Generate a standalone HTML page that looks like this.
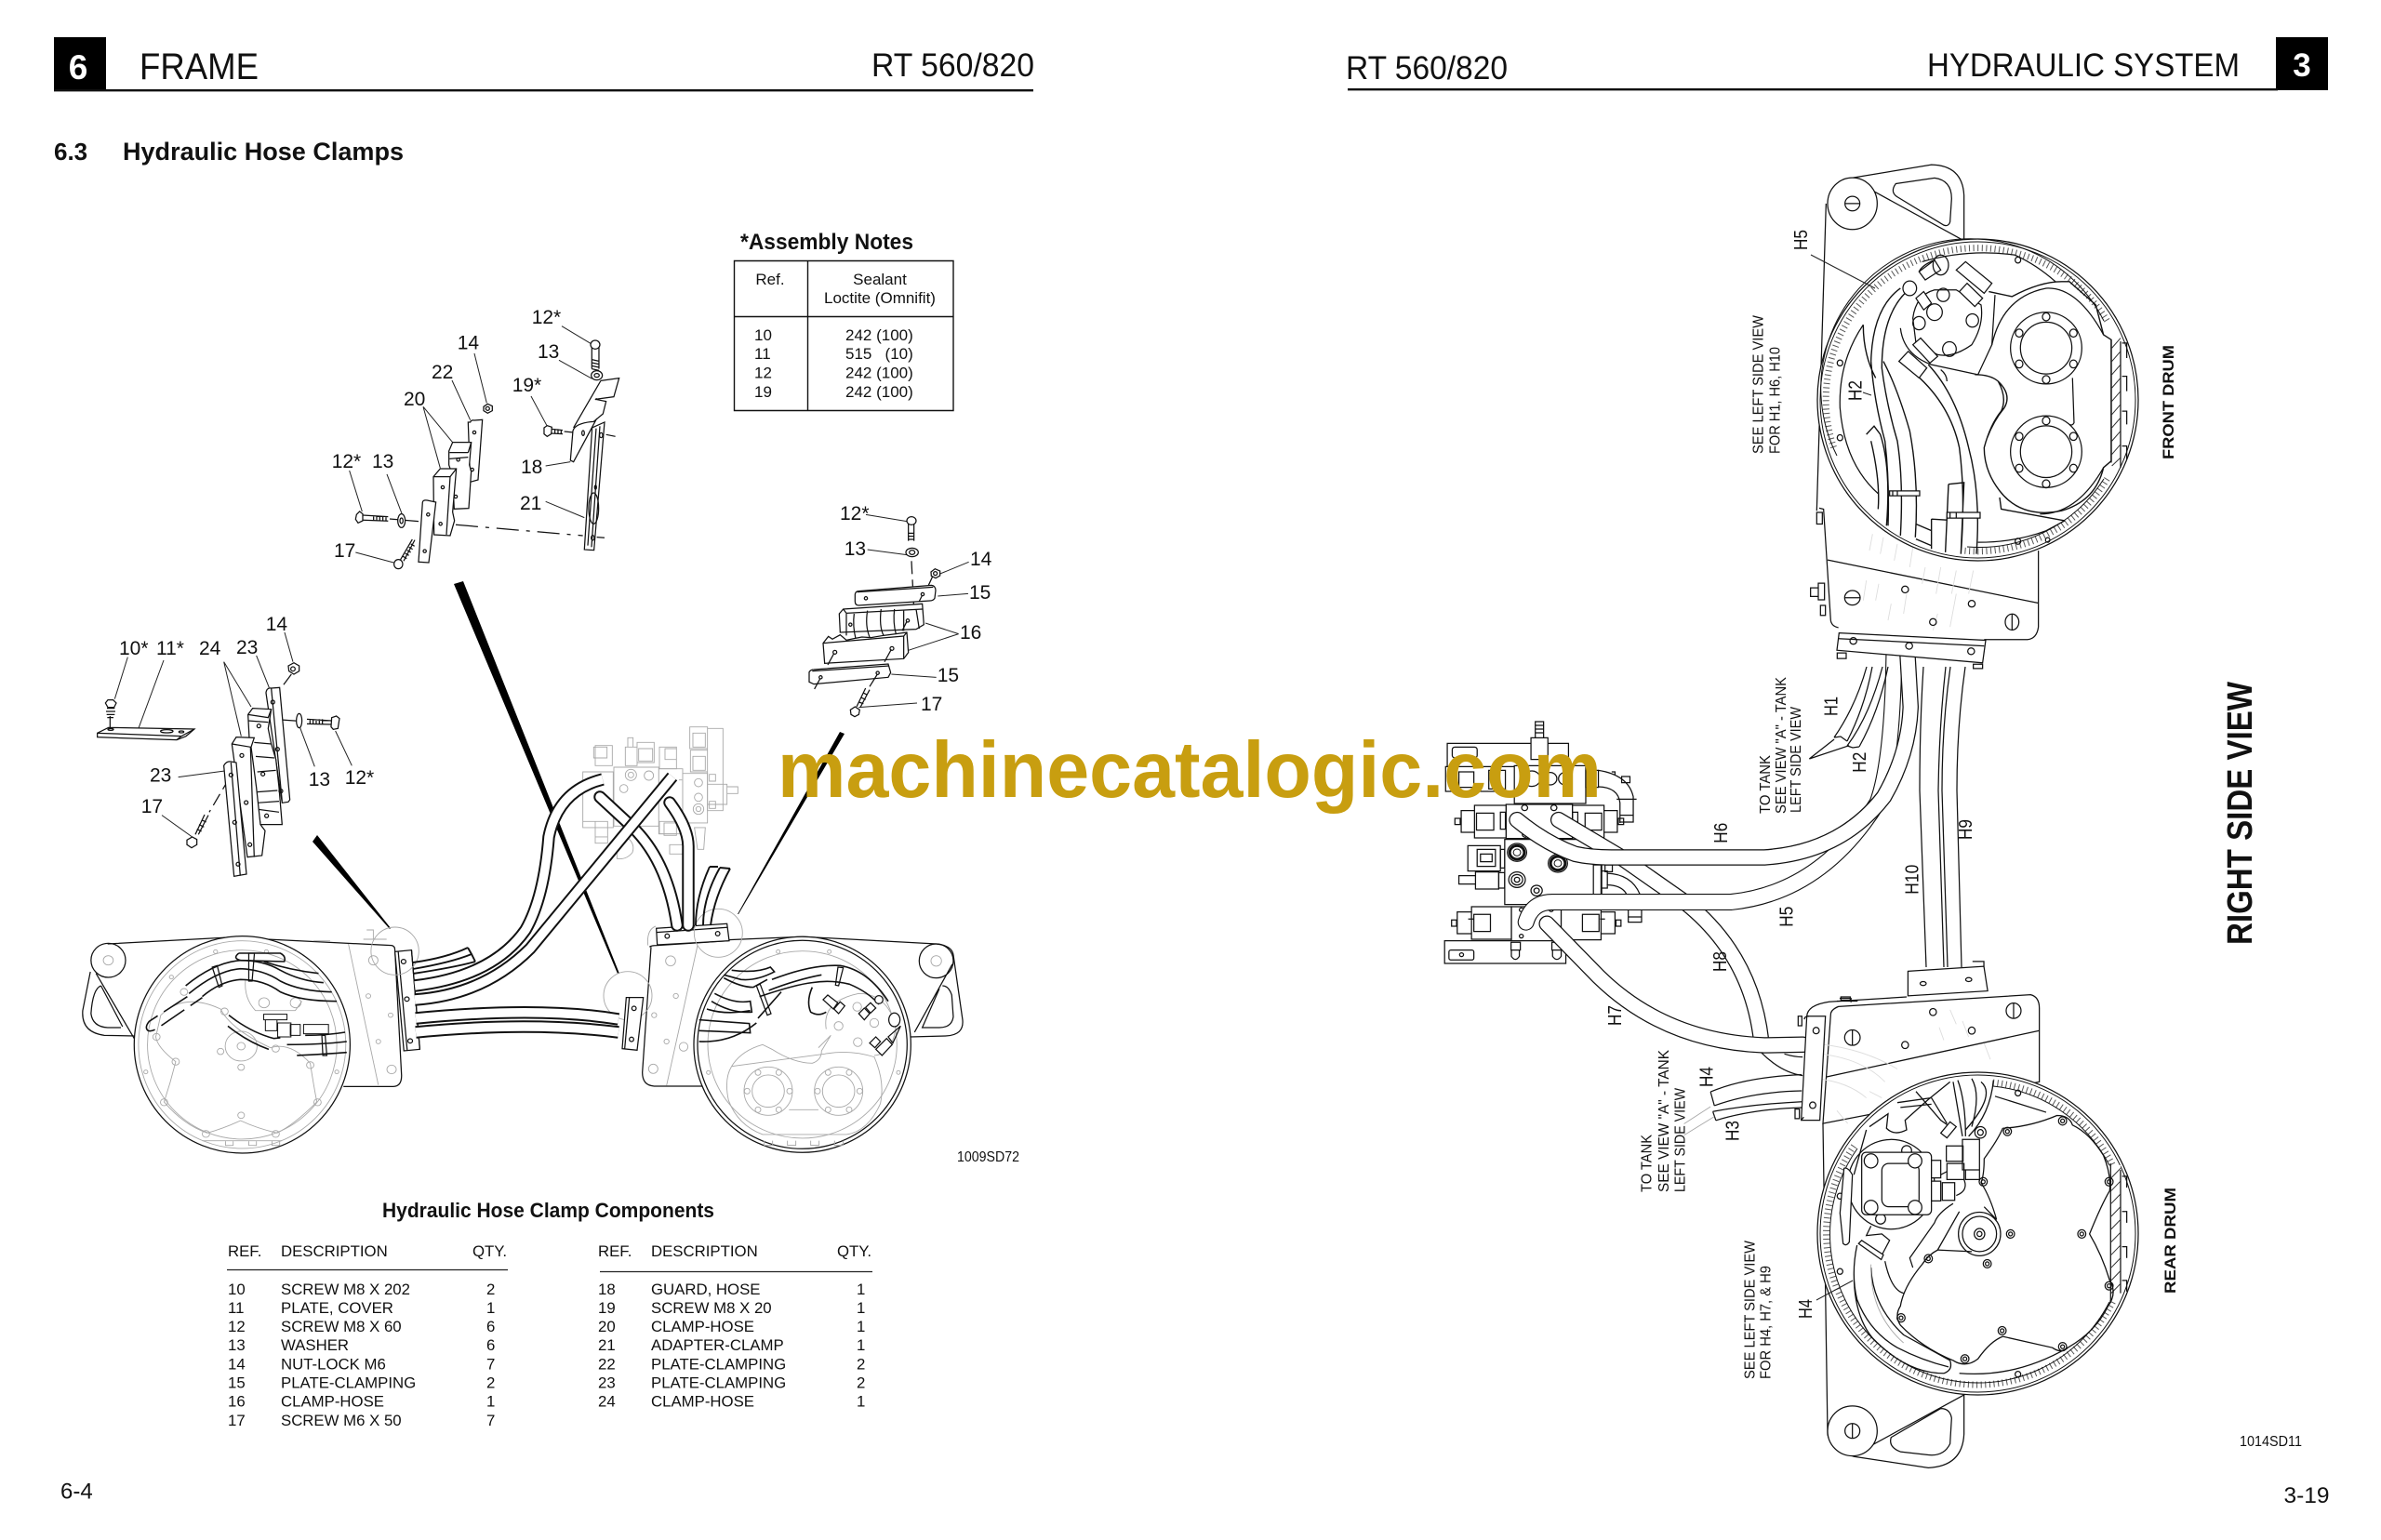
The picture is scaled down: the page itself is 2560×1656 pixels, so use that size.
<!DOCTYPE html>
<html><head><meta charset="utf-8"><style>
html,body{margin:0;padding:0;background:#fff}
svg{display:block}
svg path,svg rect,svg circle,svg ellipse,svg line,svg polygon{vector-effect:non-scaling-stroke}
.k{fill:none;stroke:#111;stroke-width:1.25}
.t{fill:none;stroke:#111;stroke-width:1.9}
.l{fill:none;stroke:#222;stroke-width:1}
.g{fill:none;stroke:#a8a8a8;stroke-width:.9}
.g2{fill:none;stroke:#ddd;stroke-width:.9}
.w{fill:#fff;stroke:#111;stroke-width:1.25}
.wg{fill:#fff;stroke:#a8a8a8;stroke-width:.9}
.hb{fill:none;stroke:#111;stroke-width:13.5;stroke-linecap:round}
.hw{fill:none;stroke:#fff;stroke-width:9.5;stroke-linecap:round}
.rb{fill:none;stroke:#111;stroke-width:17.5;stroke-linecap:round}
.rw{fill:none;stroke:#fff;stroke-width:15;stroke-linecap:round}
.ha{fill:none;stroke:#555;stroke-width:7;stroke-dasharray:1 3.6}
text{font-family:"Liberation Sans",sans-serif;fill:#111}
.n{font-size:21px}.s{font-size:16.8px}.r{font-size:17px}.b{font-weight:bold}
</style></head><body>
<svg xmlns="http://www.w3.org/2000/svg" width="2560" height="1656" viewBox="0 0 2560 1656">
<rect width="2560" height="1656" fill="#fff"/>

<!-- HEADERS -->
<rect x="58" y="40" width="56" height="57" fill="#000"/>
<rect x="58" y="96" width="1053" height="2.4" fill="#111"/>
<text x="84" y="85" font-size="37" font-weight="bold" text-anchor="middle" style="fill:#fff">6</text>
<text x="150" y="85" font-size="40" textLength="128" lengthAdjust="spacingAndGlyphs">FRAME</text>
<text x="937" y="82" font-size="35" textLength="175" lengthAdjust="spacingAndGlyphs">RT 560/820</text>
<text x="58" y="172" font-size="26" class="b">6.3</text>
<text x="132" y="172" font-size="27" class="b" textLength="302" lengthAdjust="spacingAndGlyphs">Hydraulic Hose Clamps</text>

<rect x="2447" y="40" width="56" height="57" fill="#000"/>
<rect x="1449" y="95" width="1000" height="2.4" fill="#111"/>
<text x="2475" y="82" font-size="35" font-weight="bold" text-anchor="middle" style="fill:#fff">3</text>
<text x="1447" y="85" font-size="35" textLength="174" lengthAdjust="spacingAndGlyphs">RT 560/820</text>
<text x="2072" y="82" font-size="35" textLength="336" lengthAdjust="spacingAndGlyphs">HYDRAULIC SYSTEM</text>

<!-- ASSEMBLY NOTES -->
<text x="796" y="268" font-size="24" class="b" textLength="186" lengthAdjust="spacingAndGlyphs">*Assembly Notes</text>
<rect x="789.5" y="280.5" width="235.5" height="161" fill="none" stroke="#111" stroke-width="1.4"/>
<line x1="868.5" y1="281" x2="868.5" y2="441" stroke="#111" stroke-width="1.4"/>
<line x1="790" y1="340.5" x2="1025" y2="340.5" stroke="#111" stroke-width="1.4"/>
<g class="r">
<text x="828" y="306" text-anchor="middle">Ref.</text>
<text x="946" y="306" text-anchor="middle">Sealant</text>
<text x="946" y="326" text-anchor="middle">Loctite (Omnifit)</text>
<text x="811" y="366">10</text><text x="909" y="366">242 (100)</text>
<text x="811" y="386">11</text><text x="909" y="386">515 &#160; (10)</text>
<text x="811" y="406.5">12</text><text x="909" y="406.5">242 (100)</text>
<text x="811" y="427">19</text><text x="909" y="427">242 (100)</text>
</g>

<!-- TOP CLAMP ASSEMBLY -->
<g transform="translate(340,330) scale(.3333)">
<path class="l" d="M792 62L885 118M783 172L890 232M510 150L550 310M438 237L497 365M345 322L440 437M345 322L400 520M693 288L745 385M740 513L820 500M740 628L865 680M107 528L148 660M228 540L278 672M127 792L250 825"/>
<path class="k" stroke-dasharray="24 8 4 8" d="M450 703L860 738"/>
<path class="k" d="M905 743L930 745M935 412L965 418M800 402L860 408M237 684L330 692"/>
<path class="w" d="M497 372Q500 364 510 366L536 364L522 558L497 565L490 372Z"/>
<path class="w" d="M428 465L440 437L500 437L494 510L500 530L492 650L445 652L440 545L428 510Z"/>
<path class="k" d="M430 470L490 470M430 490L490 485M500 437L490 470"/>
<path class="w" d="M378 548L400 522L452 522L440 662L446 690L432 738L380 735Z"/>
<path class="k" d="M378 548L432 548L452 522M432 548L420 735"/>
<path class="w" d="M343 630Q345 622 358 624L386 630L363 825L330 823Z"/>
<circle class="k" cx="510" cy="405" r="5"/><circle class="k" cx="458" cy="493" r="5"/><circle class="k" cx="503" cy="525" r="5"/><circle class="k" cx="408" cy="582" r="5"/><circle class="k" cx="401" cy="700" r="5"/><circle class="k" cx="361" cy="670" r="5"/><circle class="k" cx="350" cy="788" r="5"/><circle class="k" cx="450" cy="612" r="5"/>
<path class="w" d="M540 322L553 313L568 320L568 335L553 343L540 335Z"/><circle class="k" cx="553" cy="328" r="6"/>
<path class="w" d="M130 670L140 660L150 668L150 690L135 697L127 685Z"/>
<path class="k" d="M150 672L232 677M150 688L232 691M185 675V690M195 675V690M205 675V690M215 675V690M225 675V690"/>
<ellipse class="w" cx="275" cy="690" rx="12" ry="22"/><ellipse class="k" cx="275" cy="690" rx="5" ry="9"/>
<ellipse class="w" cx="265" cy="830" rx="14" ry="15"/>
<path class="k" d="M272 815L310 750M282 820L318 752M280 805L292 812M287 795L299 802M293 785L305 792M299 775L311 782M305 765L317 772"/>
<path class="w" d="M918 238L977 230L960 290L900 298L935 305L925 345L895 370Q835 375 828 400L820 495L830 500L905 360"/>
<path class="k" d="M918 238L830 390M905 295L900 300"/>
<path class="w" d="M890 390L930 372L896 785L865 783Z"/>
<path class="k" d="M903 392L876 770M915 385L888 775"/>
<ellipse class="k" cx="895" cy="650" rx="16" ry="50"/><ellipse class="k" cx="919" cy="414" rx="5" ry="8"/><ellipse class="k" cx="892" cy="745" rx="5" ry="8"/><ellipse class="k" cx="901" cy="582" rx="3" ry="6"/><ellipse class="k" cx="861" cy="407" rx="4" ry="8"/>
<ellipse class="w" cx="900" cy="122" rx="15" ry="14"/>
<path class="k" d="M889 132V200M912 132V200M889 170L912 175M889 180L912 185M889 190L912 195M889 200L912 205"/>
<ellipse class="w" cx="905" cy="221" rx="18" ry="15"/><ellipse class="k" cx="905" cy="221" rx="8" ry="6"/>
<path class="w" d="M735 390L745 383L760 388L758 410L745 418L735 410Z"/>
<path class="k" d="M758 394L795 398M758 408L795 410M770 394V410M780 394V410M790 396V410"/>
</g>
<g class="n">
<text x="571.7" y="348">12*</text><text x="578" y="385">13</text><text x="491.7" y="375.7">14</text><text x="464" y="407">22</text><text x="434" y="436">20</text><text x="550.7" y="421">19*</text><text x="356.7" y="503">12*</text><text x="400" y="503">13</text><text x="560" y="509">18</text><text x="559" y="548">21</text><text x="359" y="599">17</text>
</g>

<!-- LEFT CLAMP ASSEMBLY -->
<g transform="translate(100,660) scale(.3333)">
<path class="l" d="M112 140L70 275M228 150L143 380M422 155L510 300M422 155L478 395M527 135L568 238M618 60L645 155M275 527L425 507M222 650L320 720M665 360L715 493M782 378L835 490"/>
<path class="k" stroke-dasharray="14 6" d="M640 195L610 235M440 530L375 640"/>
<path class="k" d="M580 340L665 346"/>
<path class="w" d="M14 385L50 367L327 372L300 395L270 407L14 398Z"/>
<path class="k" d="M14 385L285 395L327 372M285 395L270 407"/>
<ellipse class="k" cx="238" cy="379" rx="20" ry="5"/><ellipse class="k" cx="285" cy="381" rx="8" ry="3"/><ellipse class="k" cx="57" cy="373" rx="9" ry="3"/>
<path class="k" d="M55 330V370"/>
<path class="w" d="M40 288L48 278L65 278L75 288L68 302L48 302Z"/>
<path class="k" d="M45 305H70M42 315H72M44 325H70M46 335H66"/>
<path class="w" d="M558 255Q560 238 575 240L602 238L635 600L630 607L610 610Z"/>
<path class="k" d="M575 240L610 605"/>
<path class="w" d="M500 325L515 305L575 308L565 370L575 420L590 470L600 560L610 680L540 680L505 420Z"/>
<path class="k" d="M500 325L565 335L575 308M500 345L565 350M520 415L575 420M525 460L585 465M530 510L590 505M530 575L595 570M530 610L600 605M525 630L600 640"/>
<path class="w" d="M448 420L462 398L520 400L510 430L527 560L540 680L555 700L545 780L498 785Z"/>
<path class="k" d="M448 420L508 430M508 430L520 785"/>
<path class="w" d="M422 490Q430 475 445 477L462 480L495 840L455 847Z"/>
<path class="k" d="M445 480L475 845"/>
<circle class="k" cx="580" cy="285" r="6"/><circle class="k" cx="535" cy="362" r="6"/><circle class="k" cx="595" cy="437" r="6"/><circle class="k" cx="548" cy="517" r="6"/><circle class="k" cx="606" cy="572" r="6"/><circle class="k" cx="560" cy="652" r="6"/><circle class="k" cx="480" cy="457" r="6"/><circle class="k" cx="494" cy="609" r="6"/><circle class="k" cx="506" cy="745" r="6"/><circle class="k" cx="445" cy="520" r="6"/><circle class="k" cx="457" cy="673" r="6"/><circle class="k" cx="468" cy="808" r="6"/>
<path class="w" d="M630 168L648 158L665 168L665 185L648 195L632 185Z"/><circle class="k" cx="645" cy="178" r="7"/>
<ellipse class="w" cx="665" cy="345" rx="9" ry="23"/>
<path class="k" d="M690 340L770 345M690 355L770 357M700 340V355M710 340V355M720 340V355M730 340V355M740 340V355"/>
<path class="w" d="M770 335L785 330L795 338L790 370L775 373L768 365Z"/>
<path class="w" d="M303 730L320 720L335 728L335 745L318 755L303 745Z"/>
<path class="k" d="M330 712L360 648M340 712L372 650M335 695L350 702M342 680L358 688M350 665L365 672"/>
</g>
<g class="n">
<text x="128" y="704">10*</text><text x="168" y="704">11*</text><text x="214" y="704">24</text><text x="254" y="703">23</text><text x="285.7" y="678">14</text><text x="161" y="840.7">23</text><text x="151.7" y="874">17</text><text x="331.7" y="845">13</text><text x="370.7" y="843">12*</text>
</g>

<!-- RIGHT CLAMP ASSEMBLY -->
<g transform="translate(860,540) scale(.3333)">
<path class="l" d="M213 40L345 62M218 153L345 170M545 193L450 232M543 295L445 303M512 425L405 390M512 425L350 478M440 565L295 555M378 648L190 662"/>
<path class="k" stroke-dasharray="14 6" d="M360 190L368 345"/>
<path class="w" d="M178 297Q180 287 190 287L425 268Q438 270 438 285L435 310Q430 318 420 318L190 333Q178 333 178 320Z"/>
<path class="k" d="M185 290L430 274"/><circle class="k" cx="213" cy="310" r="5"/><circle class="k" cx="396" cy="297" r="5"/>
<path class="w" d="M127 360L140 345L395 328L400 395L375 410L130 420Z"/>
<path class="k" d="M150 360L150 430M175 360Q170 400 180 440M218 350Q210 400 225 435M262 345Q255 400 270 430M305 345Q300 390 310 425M335 350L335 415M375 345L385 408M140 345L150 358L395 345"/>
<circle class="k" cx="163" cy="395" r="5"/><circle class="k" cx="348" cy="382" r="5"/>
<path class="w" d="M75 455L92 433L105 442L130 428L150 445L175 440L200 435L230 437L270 430L310 425L345 420L350 485L335 505L80 520Z"/>
<path class="k" d="M75 455L335 432L345 420M335 432V505"/><circle class="k" cx="113" cy="484" r="6"/><circle class="k" cx="297" cy="472" r="6"/>
<path class="k" d="M110 488L90 525M295 475L273 515M415 268L428 240M395 300L385 320M345 385L330 415"/>
<path class="w" d="M30 548Q35 540 45 540L285 522L293 550L285 565L45 587L30 580Z"/>
<path class="k" d="M40 545L288 528"/><circle class="k" cx="67" cy="565" r="5"/><circle class="k" cx="251" cy="551" r="5"/>
<path class="k" d="M65 570L47 603M250 555L225 595"/>
<ellipse class="w" cx="360" cy="60" rx="15" ry="13"/>
<path class="k" d="M350 70V125M368 70V125M350 100H368M350 110H368M350 120H368"/>
<ellipse class="w" cx="362" cy="162" rx="20" ry="14"/><ellipse class="k" cx="362" cy="162" rx="9" ry="7"/>
<path class="w" d="M423 225L436 215L452 222L452 237L438 245L424 238Z"/><circle class="k" cx="437" cy="230" r="6"/>
<path class="w" d="M163 670L178 660L193 670L190 685L177 692L165 685Z"/>
<path class="k" d="M183 660L212 600M195 662L225 605M190 645L205 650M197 630L212 637M204 615L218 622"/>
</g>
<g class="n">
<text x="903" y="559">12*</text><text x="907.7" y="597">13</text><text x="1043" y="608">14</text><text x="1042" y="644">15</text><text x="1032" y="687">16</text><text x="1007.7" y="733">15</text><text x="990" y="764">17</text>
</g>

<!-- WEDGE LEADERS -->
<polygon points="488,628 498,625 666,1047 664,1047" fill="#000"/>
<polygon points="336,905 341,898 420,998 419,999" fill="#000"/>
<polygon points="903,787 908,789 794,983 793,983" fill="#000"/>

<!-- LEFT MACHINE: VALVE (grey) -->
<g transform="translate(640,760) scale(.3333)">
<path class="wg" d="M60 195H205V385H60Z"/><path class="wg" d="M-40 210H58V390H-40Z"/>
<path class="wg" d="M205 200H282V410H205Z"/><path class="wg" d="M282 215H362V375H282Z"/>
<path class="g" d="M0 125H55V190H0ZM135 115H190V180H135ZM207 130H262V200H207ZM305 65H362V135H305ZM307 140H362V210H307ZM362 70H412V335H362ZM315 85H355V130H315ZM315 160H355V205H315ZM140 135H185V175H140ZM225 135H262V170H225ZM-5 130H38V165H-5ZM97 130H135V190H97ZM105 100H122V130H105ZM362 250H425V315H362ZM425 258H460V280H425ZM-40 370H0V440H40V370M0 370H40V420H0ZM207 370H262V410H207ZM222 375H262V415H222ZM240 445H285V475H240ZM100 420Q130 440 120 470Q100 495 70 490V440M320 390H355L350 460H330Z"/>
<circle class="g" cx="115" cy="220" r="18"/><circle class="g" cx="115" cy="220" r="9"/><circle class="g" cx="173" cy="222" r="15"/><circle class="g" cx="92" cy="264" r="13"/><circle class="g" cx="333" cy="245" r="13"/><circle class="g" cx="333" cy="292" r="13"/><circle class="g" cx="333" cy="330" r="17"/><circle class="g" cx="333" cy="330" r="8"/>
<path class="g" d="M368 218H388V240H368ZM368 305H388V328H368ZM270 236H280"/>
</g>
<g transform="translate(80,960) scale(.3571,.3333)">
<!-- left frame -->
<path class="k" d="M100 165L500 142M580 150L955 170Q965 172 965 185L985 590Q985 625 960 625L810 625"/>
<path class="k" d="M48 255L25 380Q20 450 90 460L182 462M65 260L180 470M80 300Q55 310 50 390Q55 432 100 435L140 435M80 300L145 432"/>
<ellipse class="k" cx="102" cy="218" rx="52" ry="55"/><circle class="g" cx="102" cy="218" r="15"/>
<path class="g" d="M825 165L915 620M720 155H770M870 150H940M880 120H900V150"/>
<ellipse class="g" cx="900" cy="218" rx="14" ry="15"/><circle class="g" cx="885" cy="333" r="7"/><circle class="g" cx="952" cy="395" r="7"/><circle class="g" cx="915" cy="480" r="7"/><circle class="g" cx="955" cy="570" r="14"/>
<ellipse class="k" cx="505" cy="490" rx="325" ry="350" style="fill:#fff"/>
<ellipse class="g" cx="505" cy="490" rx="312" ry="335"/><ellipse class="g" cx="505" cy="490" rx="285" ry="305"/>
<circle class="g" cx="425" cy="190" r="6"/><circle class="g" cx="578" cy="190" r="6"/><circle class="g" cx="292" cy="272" r="6"/><circle class="g" cx="215" cy="578" r="6"/><circle class="g" cx="790" cy="578" r="6"/>
<path class="g" d="M260 395Q330 320 440 375Q470 440 590 500Q650 480 710 550Q720 620 730 675Q660 750 610 775Q550 760 500 735Q450 760 400 775Q330 750 270 675Q290 610 305 545Q250 500 245 465Z"/>
<g class="g"><circle cx="330" cy="320" r="11"/><circle cx="452" cy="383" r="11"/><circle cx="247" cy="465" r="11"/><circle cx="305" cy="545" r="11"/><circle cx="440" cy="512" r="10"/><circle cx="502" cy="563" r="10"/><circle cx="606" cy="503" r="11"/><circle cx="710" cy="556" r="11"/><circle cx="732" cy="676" r="11"/><circle cx="270" cy="676" r="11"/><circle cx="502" cy="718" r="10"/><circle cx="396" cy="778" r="11"/><circle cx="606" cy="778" r="11"/><circle cx="502" cy="495" r="48"/><circle cx="502" cy="495" r="12"/></g>
<path class="g" d="M385 800H625M455 802V815H478V802M525 802V815H548V802M595 802V815H618V802"/>
<path class="g" d="M515 280Q510 340 545 380H665L685 350M555 355A16 16 0 1 0 555 354.9M650 355A16 16 0 1 0 650 354.9"/>
<!-- hoses in left drum -->
<path class="t" style="stroke-width:1.6" d="M335 300Q420 225 500 218Q570 218 620 250Q680 285 750 290M345 325Q430 250 500 245Q570 248 620 285Q680 318 775 320M385 335Q440 285 500 280Q570 280 620 320Q680 350 790 350"/>
<path class="t" style="stroke-width:1.6" stroke-dasharray="30 8" d="M340 335L225 415Q210 435 222 445Q235 450 260 430L385 338"/>
<path class="t" style="stroke-width:1.6" d="M495 195H620Q638 205 632 222L500 218Q475 212 495 195M570 222Q650 250 735 260"/>
<path class="t" style="stroke-width:1.6" d="M465 395Q530 450 600 470L620 468M462 430Q520 480 585 505M695 460Q760 460 815 450M640 490Q740 490 820 480M670 525Q760 520 820 515"/>
<path class="k" style="stroke-width:1" d="M570 392H640V410H570ZM575 410H610V445H575ZM612 420H652V465H612ZM650 425H680V460H650ZM690 425H765V455H690Z"/>
<path class="k" d="M415 240L430 235L445 300L435 305ZM525 195L542 195L535 285H525ZM745 460L755 460L760 525H748Z"/>
<!-- clamp + circle -->
<path class="w" d="M965 190L1015 185L1040 505L992 510Z"/>
<path class="k" d="M975 190L1002 508M1015 185L1040 505"/>
<circle class="k" cx="991" cy="222" r="7"/><circle class="k" cx="1001" cy="343" r="7"/><circle class="k" cx="1011" cy="478" r="7"/>
<ellipse class="g" cx="965" cy="188" rx="72" ry="77"/>
</g>

<!-- LEFT MACHINE: RIGHT DRUM -->
<g transform="translate(640,760) scale(.3333)">
<path class="k" d="M175 775Q180 770 200 770L430 755M430 752L670 742L1100 765Q1150 770 1155 800L1185 1010Q1190 1060 1130 1062L1015 1065M180 775L152 1180Q152 1222 190 1224L350 1224"/>
<path class="g" d="M170 770Q165 720 195 708M330 770L230 1222"/>
<circle class="k" cx="1100" cy="820" r="55"/><circle class="g" cx="1100" cy="820" r="17"/>
<path class="k" d="M1152 830L1030 1050M1120 900Q1140 900 1150 930L1155 1000Q1150 1035 1110 1035L1055 1035L1110 910"/>
<g class="g"><circle cx="243" cy="820" r="16"/><circle cx="260" cy="933" r="8"/><circle cx="190" cy="995" r="8"/><circle cx="230" cy="1080" r="8"/><circle cx="285" cy="1097" r="14"/><circle cx="187" cy="1168" r="15"/></g>
<ellipse class="w" cx="668" cy="1090" rx="350" ry="348"/>
<ellipse class="k" cx="668" cy="1090" rx="338" ry="336"/>
<ellipse class="g" cx="668" cy="1090" rx="305" ry="302"/>
<g class="g">
<circle cx="590" cy="790" r="6"/><circle cx="755" cy="790" r="6"/><circle cx="365" cy="1180" r="6"/><circle cx="978" cy="1180" r="6"/>
<path d="M440 1160Q470 1110 540 1090L570 1105Q640 1150 700 1150Q730 1140 730 1110L760 1060L720 1100M740 1120Q820 1105 900 1130Q935 1210 920 1280Q880 1370 810 1380H540Q460 1350 430 1270Q415 1200 440 1160ZM625 1300H720M745 1040Q730 950 850 925Q940 925 970 1030Q960 1120 900 1125"/>
<circle cx="558" cy="1240" r="78"/><circle cx="558" cy="1240" r="52"/><circle cx="785" cy="1240" r="78"/><circle cx="785" cy="1240" r="52"/>
<circle cx="490" cy="1240" r="9"/><circle cx="627" cy="1240" r="9"/><circle cx="525" cy="1180" r="9"/><circle cx="592" cy="1180" r="9"/><circle cx="525" cy="1300" r="9"/><circle cx="592" cy="1300" r="9"/><circle cx="717" cy="1240" r="9"/><circle cx="853" cy="1240" r="9"/><circle cx="751" cy="1180" r="9"/><circle cx="819" cy="1180" r="9"/><circle cx="751" cy="1300" r="9"/><circle cx="819" cy="1300" r="9"/>
<circle cx="845" cy="968" r="14"/><circle cx="785" cy="1030" r="14"/><circle cx="847" cy="1082" r="14"/><circle cx="900" cy="1020" r="14"/>
<path d="M545 1400V1415H572V1400M620 1400V1415H647V1400M695 1400V1415H722V1400M772 1400V1415H800V1400"/>
</g>
<path class="t" style="stroke-width:1.6" d="M440 850Q520 860 565 840L578 855Q520 885 470 880L415 865M415 875Q470 905 510 905L555 880M385 925Q450 960 500 950L505 985Q440 990 375 950M360 975Q420 995 500 980M335 1010L497 1022L500 1052L335 1045M335 1080Q440 1085 520 1020M525 1005L600 920"/>
<path class="t" style="stroke-width:1.6" d="M570 880Q700 830 790 835Q880 850 945 950M530 935Q650 895 700 890Q760 880 820 895Q880 920 915 960M560 915Q650 880 730 865M700 905Q680 950 695 985Q720 1000 745 985"/>
<path class="k" d="M520 900L532 895L567 990L555 995ZM783 840L800 842L785 900L775 898Z"/>
<path class="w" d="M735 945L750 930L782 955L768 975Z"/><path class="w" d="M770 975L790 952L805 965L785 990Z"/>
<path class="w" d="M850 990L868 972L885 990L868 1010Z"/><path class="w" d="M872 970L888 955L905 972L888 988Z"/>
<path class="w" d="M885 1085L905 1065L920 1080L902 1100Z"/><path class="w" d="M905 1105L940 1070L958 1090L925 1125Z"/>
<ellipse class="w" cx="915" cy="945" rx="13" ry="13"/><ellipse class="w" cx="965" cy="1010" rx="18" ry="22"/><path class="k" d="M945 1065L985 1030L960 1085Z"/>
<path class="w" d="M197 715L425 700L432 755L200 768Z"/><path class="k" d="M197 728L425 712"/>
<circle class="k" cx="232" cy="740" r="7"/><circle class="k" cx="395" cy="732" r="7"/>
<circle class="g" cx="397" cy="730" r="78"/><circle class="g" cx="105" cy="932" r="78"/>
</g>
<!-- LEFT MACHINE HOSES -->
<path class="hb" d="M645 857L673 883Q717 920 728 995"/><path class="hw" d="M645 857L673 883Q717 920 728 995"/>
<path class="hb" d="M720 863Q740 890 740 910L740 995"/><path class="hw" d="M720 863Q740 890 740 910L740 995"/>
<path class="hb" style="stroke-linecap:butt" d="M446 1060Q530 1050 565 1000Q585 965 590 900Q600 850 648 838"/><path class="hw" style="stroke-linecap:butt" d="M446 1060Q530 1050 565 1000Q585 965 590 900Q600 850 648 838"/>
<path class="hb" style="stroke-linecap:butt" d="M446 1075Q520 1070 570 1020L723 835"/><path class="hw" style="stroke-linecap:butt" d="M446 1075Q520 1070 570 1020L723 835"/>
<path class="t" d="M763 932Q748 965 748 995M774 933Q756 965 756 995M772 932L763 932M785 934L774 933M785 934Q768 965 764 995"/>
<path class="t" d="M444 1035Q480 1030 503 1019M444 1042Q485 1035 507 1026M444 1047Q490 1040 511 1034M503 1019L507 1026L511 1034"/>
<path class="hb" style="stroke-linecap:butt" d="M447 1095Q580 1082 665 1096"/><path class="hw" style="stroke-linecap:butt" d="M447 1095Q580 1082 665 1096"/>
<path class="hb" style="stroke-linecap:butt" d="M447 1110Q570 1098 665 1110"/><path class="hw" style="stroke-linecap:butt" d="M447 1110Q570 1098 665 1110"/>
<g transform="translate(640,760) scale(.3333)">
<path class="w" d="M100 938L155 938L135 1108L87 1103Z"/><path class="k" d="M110 938L95 1103"/><circle class="k" cx="125" cy="973" r="7"/><circle class="k" cx="117" cy="1073" r="7"/>
</g>
<text x="1029" y="1249" font-size="16" textLength="67" lengthAdjust="spacingAndGlyphs">1009SD72</text>

<!-- PARTS TABLE -->
<text x="411" y="1309" font-size="22" class="b" textLength="357" lengthAdjust="spacingAndGlyphs">Hydraulic Hose Clamp Components</text>
<g class="s">
<text x="245" y="1351">REF.</text><text x="302" y="1351">DESCRIPTION</text><text x="508" y="1351">QTY.</text>
<text x="643" y="1351">REF.</text><text x="700" y="1351">DESCRIPTION</text><text x="900" y="1351">QTY.</text>
<text x="245" y="1392">10</text><text x="302" y="1392">SCREW M8 X 202</text><text x="523" y="1392">2</text>
<text x="245" y="1412">11</text><text x="302" y="1412">PLATE, COVER</text><text x="523" y="1412">1</text>
<text x="245" y="1432">12</text><text x="302" y="1432">SCREW M8 X 60</text><text x="523" y="1432">6</text>
<text x="245" y="1452">13</text><text x="302" y="1452">WASHER</text><text x="523" y="1452">6</text>
<text x="245" y="1472.5">14</text><text x="302" y="1472.5">NUT-LOCK M6</text><text x="523" y="1472.5">7</text>
<text x="245" y="1492.6">15</text><text x="302" y="1492.6">PLATE-CLAMPING</text><text x="523" y="1492.6">2</text>
<text x="245" y="1512.7">16</text><text x="302" y="1512.7">CLAMP-HOSE</text><text x="523" y="1512.7">1</text>
<text x="245" y="1532.8">17</text><text x="302" y="1532.8">SCREW M6 X 50</text><text x="523" y="1532.8">7</text>
<text x="643" y="1392">18</text><text x="700" y="1392">GUARD, HOSE</text><text x="921" y="1392">1</text>
<text x="643" y="1412">19</text><text x="700" y="1412">SCREW M8 X 20</text><text x="921" y="1412">1</text>
<text x="643" y="1432">20</text><text x="700" y="1432">CLAMP-HOSE</text><text x="921" y="1432">1</text>
<text x="643" y="1452">21</text><text x="700" y="1452">ADAPTER-CLAMP</text><text x="921" y="1452">1</text>
<text x="643" y="1472.5">22</text><text x="700" y="1472.5">PLATE-CLAMPING</text><text x="921" y="1472.5">2</text>
<text x="643" y="1492.6">23</text><text x="700" y="1492.6">PLATE-CLAMPING</text><text x="921" y="1492.6">2</text>
<text x="643" y="1512.7">24</text><text x="700" y="1512.7">CLAMP-HOSE</text><text x="921" y="1512.7">1</text>
</g>
<line x1="244" y1="1365.5" x2="546" y2="1365.5" stroke="#222" stroke-width="1.2"/>
<line x1="645" y1="1367.5" x2="938" y2="1367.5" stroke="#222" stroke-width="1.2"/>
<text x="65" y="1611.5" font-size="24">6-4</text>

<!-- FRONT DRUM -->
<g transform="translate(1900,160) scale(.3333,.3571)">
<path class="k" d="M245 92L530 48Q630 50 635 140L635 285M270 90L645 282M190 165L160 1090"/>
<path class="k" d="M415 105L540 88Q595 95 595 150L590 220Q585 235 570 230L420 145Q395 130 415 105Z"/>
<ellipse class="w" cx="275" cy="165" rx="80" ry="78"/><ellipse class="k" cx="275" cy="165" rx="24" ry="22"/><path class="k" d="M251 165H299"/>
<path class="k" d="M168 1082L182 1085L205 1420Q208 1438 230 1442M875 1210L875 1440Q870 1475 840 1478L700 1478M195 1238L875 1368"/>
<g class="g2"><path d="M340 1160L330 1210M375 1170L365 1220M420 1190L410 1240M470 1200L460 1260M510 1260L500 1310M560 1260L545 1340M610 1270L595 1340M665 1270L650 1340M320 1300L310 1360M360 1310L350 1360M400 1370L390 1420M450 1340L440 1400M550 1400L535 1450M610 1340L590 1440"/></g>
<ellipse class="k" cx="275" cy="1352" rx="25" ry="22"/><path class="k" d="M250 1352H300"/><ellipse class="k" cx="790" cy="1425" rx="22" ry="24"/><path class="k" d="M790 1402V1448"/>
<ellipse class="k" cx="445" cy="1327" rx="11" ry="10"/><ellipse class="k" cx="660" cy="1370" rx="11" ry="10"/><ellipse class="k" cx="535" cy="1425" rx="11" ry="10"/>
<path class="k" d="M160 1095H178V1130H160ZM140 1322H165V1348H140ZM165 1308H185V1358H165ZM172 1375H188V1405H172Z"/>
</g>
<ellipse cx="2126.5" cy="430" rx="172.5" ry="173" fill="#fff" stroke="#111" stroke-width="1.25"/>
<ellipse cx="2126.5" cy="430" rx="169.5" ry="170" fill="none" stroke="#111" stroke-width="1"/>
<path class="ha" d="M1971.5 481A163 163 0 0 1 2265.5 345"/>
<path class="ha" d="M2265.5 515A163 163 0 0 1 2110 592"/>
<path class="k" style="stroke-width:1" d="M1975 490A159 159 0 0 1 2262 345M2262 515A159 159 0 0 1 2115 588"/>
<g transform="translate(1900,160) scale(.3333,.3571)">
<rect x="1112" y="560" width="28" height="395" fill="#fff"/>
<path class="k" d="M1110 575V945M1140 580V960M1145 585H1160V630M1145 685H1160V730M1145 790H1160V830M1145 895H1160V935"/>
<path d="M1112 600L1140 570M1112 640L1140 610M1112 680L1140 650M1112 720L1140 690M1112 760L1140 730M1112 800L1140 770M1112 840L1140 810M1112 880L1140 850M1112 920L1140 890M1112 955L1140 930" stroke="#333" fill="none"/>
<path class="k" d="M500 340Q650 300 800 320Q870 350 930 400M310 530Q230 640 235 780Q250 950 360 1040M680 1185Q800 1185 900 1150L960 1120"/>
<circle class="k" cx="809" cy="335" r="9"/><circle class="k" cx="235" cy="645" r="9"/><circle class="k" cx="235" cy="870" r="9"/><circle class="k" cx="809" cy="1182" r="9"/><circle class="k" cx="905" cy="1178" r="7"/>
<path class="t" style="stroke-width:1.4" d="M715 430L790 445Q880 400 950 400L975 400L1060 470L1085 560L1110 575L1110 940L1085 960Q1060 1060 950 1090Q820 1115 750 1030Q700 970 700 900Q720 830 755 790Q775 750 745 700Q720 680 670 680M745 700Q790 740 765 780Q730 820 710 870M750 1050L755 1085L960 1120"/>
<path class="k" d="M725 590Q760 445 900 420Q1000 415 1085 560M1085 960Q1000 1100 880 1100"/>
<path class="k" d="M985 690L990 825Q985 835 975 830"/>
<ellipse class="k" cx="900" cy="600" rx="115" ry="108"/><ellipse class="k" cx="900" cy="600" rx="83" ry="78"/>
<ellipse class="k" cx="900" cy="912" rx="115" ry="108"/><ellipse class="k" cx="900" cy="912" rx="83" ry="78"/>
<g class="k"><circle cx="900" cy="506" r="12"/><circle cx="988" cy="555" r="12"/><circle cx="988" cy="648" r="12"/><circle cx="900" cy="695" r="12"/><circle cx="813" cy="648" r="12"/><circle cx="813" cy="555" r="12"/>
<circle cx="900" cy="819" r="12"/><circle cx="988" cy="866" r="12"/><circle cx="988" cy="962" r="12"/><circle cx="900" cy="1009" r="12"/><circle cx="813" cy="962" r="12"/><circle cx="813" cy="866" r="12"/></g>
<path class="k" d="M735 440L725 590L680 680M430 540Q440 620 530 650L680 680"/>
<path class="w" d="M470 510Q480 440 540 425L610 425L690 470Q700 530 660 590Q600 630 550 620L480 585Z"/>
<g class="k"><circle cx="568" cy="440" r="20"/><circle cx="540" cy="492" r="25"/><circle cx="490" cy="525" r="20"/><circle cx="662" cy="517" r="20"/><circle cx="588" cy="603" r="22"/></g>
<path class="t" style="stroke-width:1.4" d="M430 420Q340 480 335 640Q345 760 380 880Q395 1000 390 1135M450 430Q370 500 370 660Q385 770 420 880Q440 1000 430 1165M375 640Q420 720 460 850Q490 1000 478 1170M520 650Q610 740 650 900Q690 1040 675 1220M480 680Q590 770 620 900Q640 1040 625 1220M320 860L345 835L365 860Q400 960 385 1135M335 880Q365 1000 358 1085M585 1010L635 1005L625 1220M585 1010L575 1215M530 1115L580 1118M530 1115L530 1205M480 1130L530 1150M480 1175L530 1195M310 530Q310 620 350 690"/>
<path class="w" d="M395 1030H492V1045H395ZM580 1095H687V1112H580Z"/><path class="k" d="M405 1030V1045M420 1030V1045M590 1095V1112M610 1095V1112"/>
<path class="w" d="M490 370L540 335L560 365L510 395ZM610 365L640 340L725 405L700 435ZM620 430L645 405L695 450L670 475ZM480 450L505 430L530 465L505 485ZM470 590L495 570L550 625L525 645ZM425 640L455 610L515 660L490 690Z"/>
<ellipse class="w" cx="460" cy="420" rx="22" ry="22"/><ellipse class="k" cx="560" cy="350" rx="25" ry="30"/>
<path class="k" d="M490 370Q500 350 540 335M560 665Q580 680 580 700"/>
</g>
<path class="l" d="M1947 274L2016 310M2003 422L2012 425"/>

<!-- HOSES RIGHT PAGE -->
<g transform="translate(1540,760) scale(.3571,.3333)">
<!-- valve -->
<path class="w" d="M45 118H410V195H45Z"/><rect class="k" x="60" y="130" width="75" height="35" rx="8"/>
<path class="w" d="M297 100H348V170H297Z"/><path class="w" d="M310 48H335V100H310Z"/><path class="k" d="M310 60H335M310 72H335M310 84H335"/>
<path class="w" d="M40 193H250V273H40Z"/><path class="k" d="M80 210H125V260H80ZM170 205H220V265H170Z"/>
<path class="w" d="M247 190H462V312H247Z"/>
<circle class="k" cx="300" cy="232" r="25"/><circle class="k" cx="355" cy="232" r="20"/><circle class="k" cx="400" cy="232" r="20"/>
<path class="w" d="M462 205H500V260H462Z"/>
<path class="k" d="M500 205Q590 220 605 290L605 370M500 258Q560 260 565 310L565 375M555 298H615M565 350H605V372H565ZM540 210H550V220M570 225H595V245H570Z"/>
<path class="w" d="M222 315H422V425H222Z"/>
<path class="w" d="M127 318H222V423H127ZM87 335H127V405H87ZM422 318H517V423H422ZM517 335H557V405H517Z"/>
<path class="k" d="M133 343H185V398H133ZM460 343H510V398H460ZM205 340H220V395H205ZM422 340H438V395H422ZM68 360H84V380H68ZM560 360H576V380H560Z"/>
<circle class="w" cx="278" cy="326" r="9"/><circle class="w" cx="366" cy="326" r="9"/><circle class="k" cx="280" cy="412" r="9"/>
<path class="w" d="M107 448H205V530H107ZM130 533H200V588H130ZM80 545H130V572H80Z"/>
<path class="k" d="M135 460H190V515H135ZM145 475H180V500H145ZM205 460H218V520H205ZM200 535H218V585H200Z"/>
<path class="w" d="M218 428H485V510H508V605H485V638H218Z"/>
<path class="k" d="M485 510H510V605H485ZM510 530H527V585H510ZM520 510H542V532H520ZM525 537Q600 540 625 605M525 575Q570 575 585 605"/>
<circle cx="255" cy="470" r="29" fill="none" stroke="#111" stroke-width="1.2"/><circle cx="255" cy="470" r="22" fill="none" stroke="#111" stroke-width="3"/><circle cx="255" cy="470" r="11" fill="none" stroke="#111"/>
<circle cx="378" cy="505" r="29" fill="none" stroke="#111" stroke-width="1.2"/><circle cx="378" cy="505" r="22" fill="none" stroke="#111" stroke-width="3"/><circle cx="378" cy="505" r="11" fill="none" stroke="#111"/>
<circle class="k" cx="255" cy="558" r="25"/><circle class="k" cx="255" cy="558" r="17"/><circle class="k" cx="255" cy="558" r="8"/>
<circle class="k" cx="314" cy="593" r="17"/><circle class="k" cx="314" cy="593" r="8"/>
<path class="w" d="M238 645H388V755H238Z"/>
<path class="w" d="M118 645H238V750H118ZM75 662H118V732H75ZM388 652H508V752H388ZM508 662H550V732H508Z"/>
<path class="k" d="M125 670H175V725H125ZM452 670H502V725H452ZM58 688H73V708H58ZM553 688H568V708H553ZM590 655H630V695H590ZM590 678H630M505 685H520M108 685H125"/>
<circle class="k" cx="268" cy="655" r="6"/><circle class="k" cx="358" cy="655" r="6"/><circle class="k" cx="268" cy="740" r="6"/>
<path class="w" d="M37 755H402V828H37Z"/><rect class="k" x="50" y="785" width="75" height="32" rx="6"/><circle class="k" cx="88" cy="800" r="6"/>
<path class="w" d="M237 760H265V785H237ZM360 760H390V785H360ZM238 785H262V805Q250 825 238 805ZM362 785H388V805Q375 825 362 805Z"/>
<!-- H8 -->
<path class="rb" d="M380 365L560 480L760 630Q960 800 990 1075"/><path class="rw" d="M380 365L560 480L760 630Q960 800 990 1075"/>
<!-- H5 -->
<path class="rb" style="stroke-width:18" d="M282 695Q300 630 360 630L900 630Q1170 600 1340 310Q1385 180 1390 -165"/><path class="rw" style="stroke-width:15.8" d="M282 695Q300 630 360 630L900 630Q1170 600 1340 310Q1385 180 1390 -165"/>
<!-- H6 -->
<path class="rb" d="M255 365Q340 440 430 475Q480 487 550 486L1000 486Q1230 470 1360 290Q1435 150 1440 0L1431 -165"/><path class="rw" d="M255 365Q340 440 430 475Q480 487 550 486L1000 486Q1230 470 1360 290Q1435 150 1440 0L1431 -165"/>
<!-- H7 -->
<path class="k" d="M990 1115Q1050 1180 1115 1190M1060 1120Q1090 1130 1115 1130"/>
<path class="rb" d="M345 700L500 870Q700 1080 1000 1092L1115 1090"/><path class="rw" d="M345 700L500 870Q700 1080 1000 1092L1115 1090"/>
<path class="k" d="M1135 168L1210 105M1135 168L1255 125"/>
</g>
<!-- stubs & H9/H10 -->
<path class="k" d="M1972 793Q1995 760 2007 717M1986 797Q2005 760 2013 717M1972 793L1979 792L1986 797M1986 802Q2010 770 2024 717M1999 803Q2020 765 2030 717M1986 802L1992 804L1999 803"/>
<path class="k" d="M2068 717Q2064 780 2064 850L2071 1040M2092 717Q2085 780 2084 850L2090 1040M2097 717Q2088 780 2088 850L2094 1040M2113 717Q2104 780 2104 850L2109 1040"/>
<!-- front clamp on top of hose ends -->
<g transform="translate(1900,160) scale(.3333,.3571)">
<path class="w" d="M232 1458L705 1480L695 1548L225 1510Z"/><path class="k" d="M230 1475L700 1497"/>
<ellipse class="k" cx="278" cy="1482" rx="11" ry="10"/><ellipse class="k" cx="458" cy="1497" rx="11" ry="10"/><ellipse class="k" cx="658" cy="1513" rx="11" ry="10"/>
<path class="k" d="M226 1518H255V1535H226ZM665 1552H695V1565H665Z"/>
</g>

<!-- REAR DRUM FRAME -->
<g transform="translate(1900,1060) scale(.3333,.3444)">
<path class="w" d="M205 90Q205 75 230 65L850 28Q878 35 878 70L878 300L180 430Z"/>
<path class="k" d="M128 95Q130 60 200 50L450 35"/>
<path class="k" d="M190 285L878 140"/>
<path class="g2" d="M140 180Q300 190 420 260M140 210Q300 220 380 300M160 290Q260 300 320 350M590 75L610 120M555 130L570 170M700 180L720 230M630 110L650 160M225 390L260 430M330 330L370 350"/>
<ellipse class="k" cx="275" cy="162" rx="25" ry="24"/><path class="k" d="M275 138V186"/><ellipse class="k" cx="795" cy="78" rx="24" ry="24"/><path class="k" d="M795 54V102"/>
<circle class="k" cx="445" cy="185" r="11"/><circle class="k" cx="660" cy="140" r="11"/><circle class="k" cx="535" cy="82" r="11"/>
<path class="k" d="M180 430L195 1400Q200 1440 280 1470L520 1505Q630 1500 635 1400L635 1275M280 1465L640 1275"/>
<path class="k" d="M400 1410L560 1320Q590 1320 595 1350L590 1430Q570 1470 520 1465L430 1455Q390 1440 400 1410Z"/>
<ellipse class="w" cx="275" cy="1390" rx="80" ry="78"/><ellipse class="k" cx="275" cy="1390" rx="24" ry="23"/><path class="k" d="M275 1367V1413"/>
<path class="w" d="M128 95L188 95L170 420L110 420Z"/><path class="k" d="M120 105Q120 95 135 95M118 410L110 420"/>
<circle class="k" cx="158" cy="140" r="10"/><circle class="k" cx="147" cy="373" r="10"/>
<path class="k" d="M100 95H112V125H100ZM90 385H104V415H90ZM238 35H268V45H238ZM225 48H292"/>
</g>
<ellipse cx="2126.5" cy="1326.5" rx="172.5" ry="173.5" fill="#fff" stroke="#111" stroke-width="1.25"/>
<ellipse cx="2126.5" cy="1326.5" rx="169.5" ry="170.5" fill="none" stroke="#111" stroke-width="1"/>
<path class="ha" d="M2143 1164A163 164 0 0 1 2271.5 1253"/>
<path class="ha" d="M2271.5 1400A163 164 0 0 1 1963.5 1326.5A163 164 0 0 1 1993.5 1232"/>
<path class="k" style="stroke-width:1" d="M2143 1168A159 160 0 0 1 2268 1253M2268 1400A159 160 0 0 1 1967.5 1326.5A159 160 0 0 1 1997 1235"/>
<g transform="translate(1900,1060) scale(.3333,.3444)">
<rect x="1110" y="560" width="30" height="395" fill="#fff"/>
<path class="k" d="M1108 555L1108 990M1140 575V960M1145 595H1160V630M1145 705H1160V740M1145 815H1160V850M1145 920H1160V955"/>
<path d="M1110 600L1140 570M1110 640L1140 610M1110 680L1140 650M1110 720L1140 690M1110 760L1140 730M1110 800L1140 770M1110 840L1140 810M1110 880L1140 850M1110 920L1140 890M1110 960L1140 930" stroke="#333" fill="none"/>
<path class="k" d="M735 345L900 395M620 1210Q800 1225 970 1130"/>
<circle class="k" cx="809" cy="335" r="9"/><circle class="k" cx="235" cy="657" r="9"/><circle class="k" cx="235" cy="892" r="9"/><circle class="k" cx="809" cy="1213" r="9"/>
<path class="t" style="stroke-width:1.3" d="M760 445Q850 440 935 405Q975 405 985 435Q1040 460 1085 530Q1110 590 1105 640Q1080 680 1040 775Q1080 840 1105 920Q1130 960 1100 1000Q1060 1080 970 1130Q950 1150 920 1130L760 1095Q720 1110 680 1165Q640 1195 600 1170Q500 1130 430 1060Q410 1030 430 1000Q440 940 500 870Q520 840 550 825L620 705"/>
<path class="k" d="M760 445Q745 480 700 540Q700 590 690 615Q720 660 740 730L700 690M660 830L550 825"/>
<g class="k">
<circle cx="953" cy="422" r="13"/><circle cx="953" cy="422" r="6"/><circle cx="775" cy="455" r="13"/><circle cx="775" cy="455" r="6"/><circle cx="697" cy="612" r="13"/><circle cx="697" cy="612" r="6"/><circle cx="1103" cy="612" r="13"/><circle cx="1103" cy="612" r="6"/><circle cx="1015" cy="775" r="13"/><circle cx="1015" cy="775" r="6"/><circle cx="785" cy="775" r="13"/><circle cx="785" cy="775" r="6"/><circle cx="710" cy="868" r="13"/><circle cx="710" cy="868" r="6"/><circle cx="520" cy="852" r="13"/><circle cx="520" cy="852" r="6"/><circle cx="432" cy="1037" r="13"/><circle cx="432" cy="1037" r="6"/><circle cx="758" cy="1077" r="13"/><circle cx="758" cy="1077" r="6"/><circle cx="638" cy="1165" r="13"/><circle cx="638" cy="1165" r="6"/><circle cx="953" cy="1127" r="13"/><circle cx="953" cy="1127" r="6"/><circle cx="1103" cy="937" r="13"/><circle cx="1103" cy="937" r="6"/>
<circle cx="685" cy="775" r="68"/><circle cx="685" cy="775" r="55"/><circle cx="685" cy="775" r="17"/><circle cx="685" cy="775" r="8"/><circle cx="688" cy="458" r="18"/><circle cx="688" cy="458" r="9"/>
</g>
<ellipse class="k" cx="400" cy="620" rx="140" ry="140"/>
<circle class="k" cx="450" cy="515" r="16"/><circle class="k" cx="366" cy="728" r="16"/>
<rect class="w" x="305" y="520" width="225" height="195" rx="14"/><rect class="k" x="370" y="555" width="120" height="135" rx="22"/>
<g class="w"><circle cx="335" cy="547" r="22"/><circle cx="477" cy="547" r="22"/><circle cx="335" cy="692" r="22"/><circle cx="477" cy="692" r="22"/></g>
<path class="w" d="M578 500H632V548H578ZM580 555H635V605H580ZM565 615H605V670H565ZM530 545H560V600H530ZM530 610H560V672H530ZM630 480H685V575H630ZM640 575H685V605H640Z"/>
<path class="k" d="M635 605Q650 640 610 655M560 590L580 580"/>
<path class="w" d="M248 570Q260 565 275 590L265 800Q255 815 245 805L235 710Z"/>
<path class="t" style="stroke-width:1.3" d="M330 440L390 400L385 445Q410 470 450 450L445 420L520 355L590 300M420 365L530 350M480 330L560 420L590 440M600 300L630 470M615 295Q640 360 640 470M660 290Q690 340 660 440M690 300Q740 340 640 450M730 295Q720 400 650 470M320 450L280 590M290 810Q270 900 290 980Q330 1080 420 1130Q500 1170 585 1190M335 880Q340 1000 440 1090L590 1170Q600 1200 570 1210Q450 1210 340 1100Q280 1030 280 900"/>
<path class="k" d="M335 750L320 780L370 775L395 795L365 850M380 860Q400 950 440 960M600 680Q550 710 540 740L460 850L470 880"/>
<path class="w" d="M295 805L305 795L375 840L368 855Z"/>
<path class="w" d="M560 460L590 425L610 440L580 475Z"/><path class="k" d="M580 430L530 350M430 380L530 370"/>
<path class="g" d="M335 870Q330 1020 440 1115"/>
</g>
<path class="l" d="M1953 1398L1992 1377"/>
<g transform="translate(1280,830) scale(.8163,.5294)">
<path class="w" d="M945 405L1045 395L1050 445L945 455Z"/><circle class="k" cx="965" cy="430" r="4"/><circle class="k" cx="1025" cy="422" r="4"/>
<path class="k" d="M1030 385H1045V395M855 460H870V468"/>
<path class="k" d="M685 650Q730 620 805 615M690 678Q740 650 805 648M688 690Q740 675 805 670M692 708Q740 685 805 682M685 650L690 678M688 690L692 708"/>
<path class="g" d="M650 715L685 680M650 738L690 700"/>
</g>

<!-- RIGHT PAGE ROTATED LABELS -->
<g font-size="16">
<text transform="translate(1895.5,488) rotate(-90)" textLength="149" lengthAdjust="spacingAndGlyphs">SEE LEFT SIDE VIEW</text>
<text transform="translate(1913.5,488) rotate(-90)" textLength="115" lengthAdjust="spacingAndGlyphs">FOR H1, H6, H10</text>
<text transform="translate(1903,875) rotate(-90)" textLength="63" lengthAdjust="spacingAndGlyphs">TO TANK</text>
<text transform="translate(1920,875) rotate(-90)" textLength="147" lengthAdjust="spacingAndGlyphs">SEE VIEW "A" - TANK</text>
<text transform="translate(1936,874) rotate(-90)" textLength="114" lengthAdjust="spacingAndGlyphs">LEFT SIDE VIEW</text>
<text transform="translate(1775.5,1282) rotate(-90)" textLength="62" lengthAdjust="spacingAndGlyphs">TO TANK</text>
<text transform="translate(1794,1282) rotate(-90)" textLength="153" lengthAdjust="spacingAndGlyphs">SEE VIEW "A" - TANK</text>
<text transform="translate(1811.4,1282) rotate(-90)" textLength="112" lengthAdjust="spacingAndGlyphs">LEFT SIDE VIEW</text>
<text transform="translate(1886.5,1483) rotate(-90)" textLength="149" lengthAdjust="spacingAndGlyphs">SEE LEFT SIDE VIEW</text>
<text transform="translate(1903.7,1483) rotate(-90)" textLength="122" lengthAdjust="spacingAndGlyphs">FOR H4, H7, &amp; H9</text>
</g>
<g font-size="20">
<text transform="translate(1943,269) rotate(-90)" textLength="22" lengthAdjust="spacingAndGlyphs">H5</text>
<text transform="translate(2001.7,431) rotate(-90)" textLength="22" lengthAdjust="spacingAndGlyphs">H2</text>
<text transform="translate(1975.5,770) rotate(-90)" textLength="21" lengthAdjust="spacingAndGlyphs">H1</text>
<text transform="translate(2006,830.7) rotate(-90)" textLength="22" lengthAdjust="spacingAndGlyphs">H2</text>
<text transform="translate(1857,906.7) rotate(-90)" textLength="22" lengthAdjust="spacingAndGlyphs">H6</text>
<text transform="translate(1927.5,996.7) rotate(-90)" textLength="22" lengthAdjust="spacingAndGlyphs">H5</text>
<text transform="translate(2062.5,961.7) rotate(-90)" textLength="32" lengthAdjust="spacingAndGlyphs">H10</text>
<text transform="translate(2120,903) rotate(-90)" textLength="22" lengthAdjust="spacingAndGlyphs">H9</text>
<text transform="translate(1856,1045) rotate(-90)" textLength="22" lengthAdjust="spacingAndGlyphs">H8</text>
<text transform="translate(1743,1103) rotate(-90)" textLength="22" lengthAdjust="spacingAndGlyphs">H7</text>
<text transform="translate(1841.6,1169) rotate(-90)" textLength="22" lengthAdjust="spacingAndGlyphs">H4</text>
<text transform="translate(1869.4,1227) rotate(-90)" textLength="22" lengthAdjust="spacingAndGlyphs">H3</text>
<text transform="translate(1948,1418) rotate(-90)" textLength="21" lengthAdjust="spacingAndGlyphs">H4</text>
</g>
<text transform="translate(2337,494) rotate(-90)" font-size="17" class="b" textLength="123" lengthAdjust="spacingAndGlyphs">FRONT DRUM</text>
<text transform="translate(2339,1391) rotate(-90)" font-size="17" class="b" textLength="114" lengthAdjust="spacingAndGlyphs">REAR DRUM</text>
<text transform="translate(2421,1016) rotate(-90)" font-size="38" class="b" textLength="283" lengthAdjust="spacingAndGlyphs">RIGHT SIDE VIEW</text>
<text x="2408" y="1555" font-size="16" textLength="67" lengthAdjust="spacingAndGlyphs">1014SD11</text>
<text x="2455.5" y="1616" font-size="24.5">3-19</text>

<!-- WATERMARK -->
<text x="836" y="857" font-size="85" font-weight="bold" textLength="886" lengthAdjust="spacingAndGlyphs" style="fill:#c89e10">machinecatalogic.com</text>
</svg>
</body></html>
